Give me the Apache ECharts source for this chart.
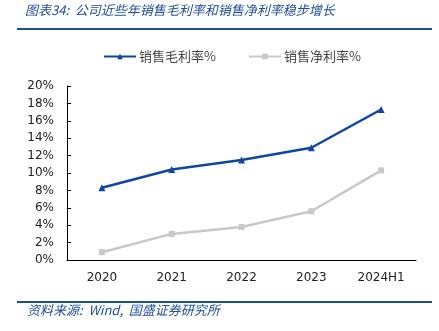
<!DOCTYPE html>
<html><head><meta charset="utf-8">
<script src="https://cdn.jsdelivr.net/npm/echarts@6/dist/echarts.min.js"></script>
<style>html,body{margin:0;padding:0;background:#fff}#c{width:439px;height:331px}</style>
</head><body><div id="c"></div>
<script>
const categories = ['2020','2021','2022','2023','2024H1'];
const grossMargin = [8.3, 10.4, 11.5, 12.9, 17.3];
const netMargin = [0.9, 3.0, 3.8, 5.6, 10.3];
const yTicks = [0, 2, 4, 6, 8, 10, 12, 14, 16, 18, 20];
const seriesNames = ['销售毛利率%', '销售净利率%'];
const titleText = '图表34:  公司近些年销售毛利率和销售净利率稳步增长';
const sourceText = '资料来源:  Wind,  国盛证券研究所';

const chart = echarts.init(document.getElementById('c'), null, {renderer: 'canvas'});
const cjk = '"Noto Sans CJK SC", sans-serif';
chart.setOption({
  animation: false,
  graphic: [
    {type: 'text', left: 25, top: 4, style: {text: titleText, font: 'italic 13px ' + cjk, fill: '#1F4E9C'}},
    {type: 'line', shape: {x1: 17, y1: 29, x2: 432, y2: 29}, style: {stroke: '#1F4E9C', lineWidth: 2}},
    {type: 'line', shape: {x1: 17, y1: 302, x2: 432, y2: 302}, style: {stroke: '#1F4E9C', lineWidth: 2}},
    {type: 'text', left: 27, top: 304, style: {text: sourceText, font: 'italic 13px ' + cjk, fill: '#1F4E9C'}}
  ],
  legend: {
    top: 45, left: 98, itemWidth: 32, itemHeight: 7, itemGap: 32,
    textStyle: {fontFamily: cjk, fontSize: 13, color: '#444', padding: [0, 0, 0, -2]},
    data: seriesNames
  },
  grid: {left: 67, right: 23, top: 86, bottom: 71},
  xAxis: {
    type: 'category', data: categories, boundaryGap: true,
    axisLine: {lineStyle: {color: '#000', width: 1}},
    axisTick: {inside: true, length: 5, lineStyle: {color: '#000'}},
    axisLabel: {fontFamily: 'DejaVu Sans', fontSize: 12, color: '#222', margin: 12}
  },
  yAxis: {
    type: 'value', min: yTicks[0], max: yTicks[yTicks.length - 1], interval: 2,
    splitLine: {show: false},
    axisLine: {show: true, lineStyle: {color: '#000', width: 1}},
    axisTick: {show: true, inside: true, length: 4, lineStyle: {color: '#000'}},
    axisLabel: {fontFamily: 'DejaVu Sans', fontSize: 12, color: '#222', margin: 13, formatter: '{value}%'}
  },
  series: [
    {name: seriesNames[0], type: 'line', data: grossMargin, symbol: 'triangle', symbolSize: 7,
     lineStyle: {color: '#0D47A1', width: 2.5}, itemStyle: {color: '#0D47A1'}},
    {name: seriesNames[1], type: 'line', data: netMargin, symbol: 'rect', symbolSize: 6,
     lineStyle: {color: '#C8C8C8', width: 2.5}, itemStyle: {color: '#C8C8C8'}}
  ]
});
</script></body></html>
